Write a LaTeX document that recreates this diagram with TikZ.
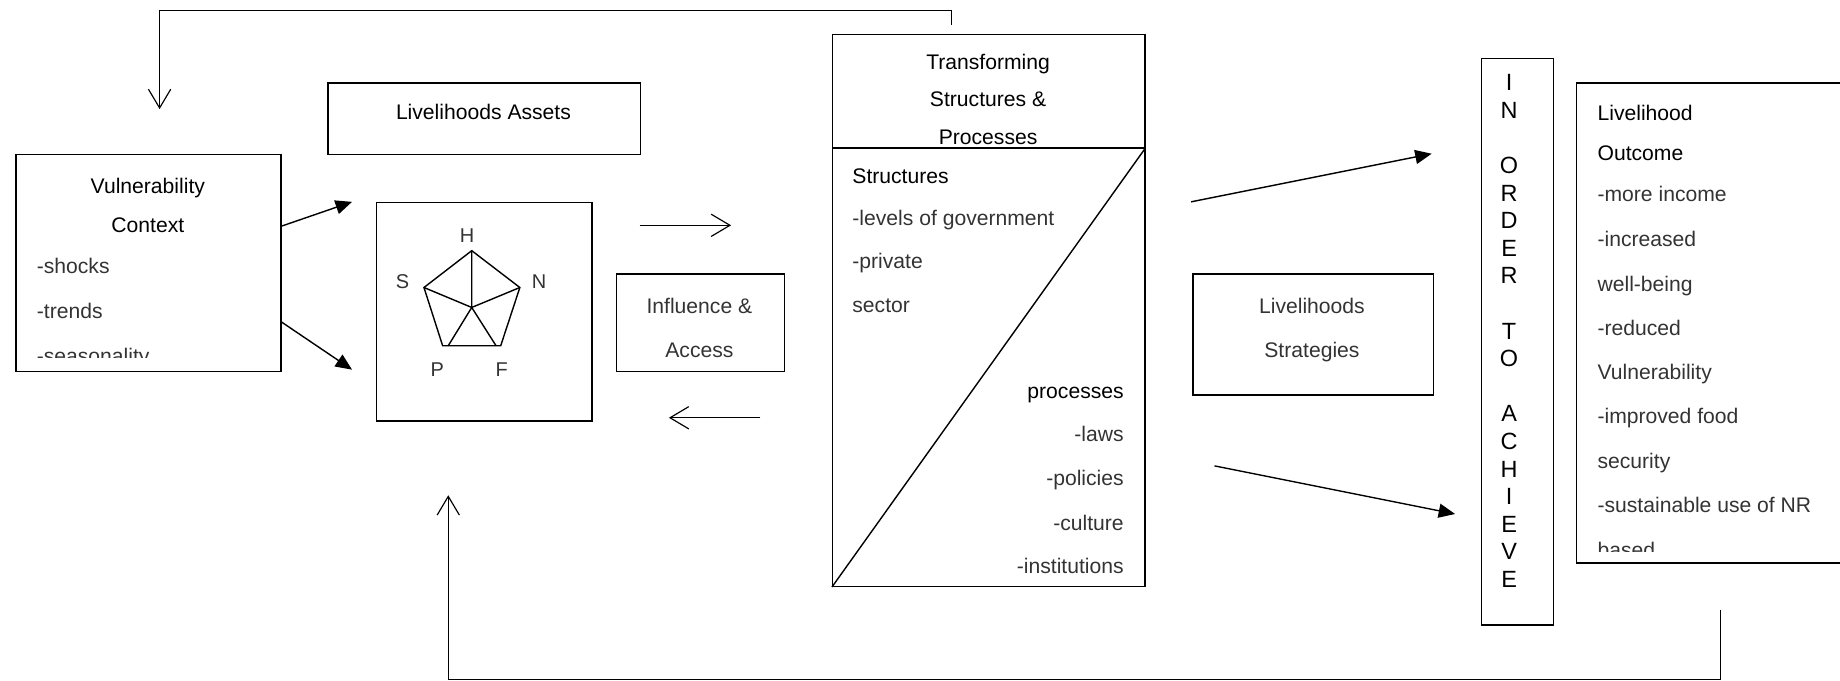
\documentclass[tikz,border=0pt]{standalone}
\usepackage{fontspec}
\setmainfont{Liberation Sans}
\usetikzlibrary{arrows.meta,positioning}

\begin{document}
\begin{tikzpicture}[x=0.5pt,y=-0.5pt,
    boxed/.style={draw, line width=0.6pt, inner sep=0pt, anchor=north west},
    txt/.style={font=\fontsize{9}{11}\selectfont, inner sep=0pt, yshift=-0.5pt},
    soft/.style={txt, text=black!80},
    letter/.style={font=\fontsize{10}{12}\selectfont, inner sep=0pt, anchor=base, yshift=-0.5pt},
    corner/.style={soft, font=\fontsize{8.5}{10}\selectfont},
    solid arrow/.style={line width=0.6pt, -{Triangle[length=7pt,width=6pt]}},
    open arrow/.style={line width=0.5pt, -{Straight Barb[length=8pt,width=9.5pt]}}]
    \useasboundingbox (0,0) rectangle (1568,580);

    %Contexte
    \node[boxed, minimum width=113pt, minimum height=92.5pt] (vul) at (13,131) {};
    \begin{scope}
      \clip (13,131) rectangle (239,305);
      \node[txt, anchor=base] (vulA) at (126,164) {Vulnerability};
      \node[txt, anchor=base] (vulB) at (126,197) {Context};
      \node[soft, anchor=base west] (vulC) at (31,232) {-shocks};
      \node[soft, anchor=base west] (vulD) at (31,270) {-trends};
      \node[soft, anchor=base west] (vulE) at (31,309) {-seasonality};
    \end{scope}

    %Capitaux
    \node[boxed, minimum width=133pt, minimum height=30.5pt] (assets) at (279,70) {};
    \node[txt, anchor=base] (assetsA) at (412,101) {Livelihoods Assets};
    \node[boxed, minimum width=92pt, minimum height=93pt] (cap) at (320,172) {};
    \coordinate (o) at (402,262);
    \coordinate (h) at (402,213.6);
    \coordinate (s) at (361.3,245);
    \coordinate (n) at (443,245);
    \coordinate (p) at (377.2,294.6);
    \coordinate (f) at (426.7,294.6);
    \coordinate (pb1) at (382,294.6);
    \coordinate (pb2) at (422.7,294.6);
    \draw[line width=0.6pt] (h) -- (n) -- (f) -- (p) -- (s) -- cycle;
    \draw[line width=0.6pt] (o) -- (h) (o) -- (n) (o) -- (s) (o) -- (pb1) (o) -- (pb2);
    \node[corner] (lh) at (398,200) {H};
    \node[corner] (ls) at (343,238.6) {S};
    \node[corner] (ln) at (459.3,238.6) {N};
    \node[corner] (lp) at (372.7,313.9) {P};
    \node[corner] (lf) at (427.5,313.9) {F};

    %Influence
    \node[boxed, minimum width=71.5pt, minimum height=41.5pt] (infl) at (525,233) {};
    \node[soft, anchor=base] (inflA) at (596,266) {Influence \&};
    \node[soft, anchor=base] (inflB) at (596,304) {Access};

    %Structures et processus
    \node[boxed, minimum width=133pt, minimum height=235pt] (transf) at (709,29) {};
    \coordinate (hdr) at (709,126);
    \draw[line width=0.6pt] (hdr) -- (hdr -| transf.east);
    \draw[line width=0.6pt] (transf.south west) -- (hdr -| transf.east);
    \node[txt, anchor=base] (trA) at (842,58) {Transforming};
    \node[txt, anchor=base] (trB) at (842,90) {Structures \&};
    \node[txt, anchor=base] (trC) at (842,122) {Processes};
    \node[txt, anchor=base west] (stA) at (726,155) {Structures};
    \node[soft, anchor=base west] (stB) at (726,191) {-levels of government};
    \node[soft, anchor=base west] (stC) at (726,228) {-private};
    \node[soft, anchor=base west] (stD) at (726,265) {sector};
    \node[txt, anchor=base east] (prA) at (958,339) {processes};
    \node[soft, anchor=base east] (prB) at (958,375) {-laws};
    \node[soft, anchor=base east] (prC) at (958,413) {-policies};
    \node[soft, anchor=base east] (prD) at (958,451) {-culture};
    \node[soft, anchor=base east] (prE) at (958,488) {-institutions};

    %Strategies
    \node[boxed, minimum width=102.5pt, minimum height=51.5pt] (strat) at (1016,233) {};
    \node[soft, anchor=base] (stratA) at (1118,266) {Livelihoods};
    \node[soft, anchor=base] (stratB) at (1118,304) {Strategies};

    %In order to achieve
    \node[boxed, minimum width=30.5pt, minimum height=241.5pt] (achieve) at (1262,49) {};
    \foreach \c [count=\i from 0] in {I,N,{},O,R,D,E,R,{},T,O,{},A,C,H,I,E,V,E}
      \node[letter] (ach\i) at (1286,76.5+23.5*\i) {\c};

    %Resultats
    \node[boxed, minimum width=112.5pt, minimum height=204.5pt] (outc) at (1343,70) {};
    \begin{scope}
      \clip (1343,70) rectangle (1568,470);
      \node[txt, anchor=base west] (outA) at (1361,102) {Livelihood};
      \node[txt, anchor=base west] (outB) at (1361,136) {Outcome};
      \node[soft, anchor=base west] (outC) at (1361,171) {-more income};
      \node[soft, anchor=base west] (outD) at (1361,209) {-increased};
      \node[soft, anchor=base west] (outE) at (1361,247) {well-being};
      \node[soft, anchor=base west] (outF) at (1361,285) {-reduced};
      \node[soft, anchor=base west] (outG) at (1361,322) {Vulnerability};
      \node[soft, anchor=base west] (outH) at (1361,360) {-improved food};
      \node[soft, anchor=base west] (outI) at (1361,398) {security};
      \node[soft, anchor=base west] (outJ) at (1361,436) {-sustainable use of NR};
      \node[soft, anchor=base west] (outK) at (1361,474) {based};
    \end{scope}

    %Fleches
    \coordinate (capA) at (300,172);
    \coordinate (capB) at (300,315);
    \draw[solid arrow] ([yshift=15.75pt]vul.east) -- (capA);
    \draw[solid arrow] ([yshift=-25.25pt]vul.east) -- (capB);
    \coordinate (goA) at (545,192);
    \coordinate (goB) at (623,192);
    \coordinate (backA) at (648,356);
    \coordinate (backB) at (570,356);
    \draw[open arrow] (goA) -- (goB);
    \draw[open arrow] (backA) -- (backB);
    \coordinate (upA) at (1015,172);
    \coordinate (upB) at (1220,131);
    \coordinate (dnA) at (1035,397);
    \coordinate (dnB) at (1240,438);
    \draw[solid arrow] (upA) -- (upB);
    \draw[solid arrow] (dnA) -- (dnB);

    %Retroaction
    \coordinate (topA) at (811,21);
    \coordinate (topB) at (136,9);
    \coordinate (topC) at (136,93);
    \draw[open arrow] (topA) |- (topB) -- (topC);
    \coordinate (botA) at (1466,520);
    \coordinate (botB) at (1466,579);
    \coordinate (botC) at (382,422);
    \draw[open arrow] (botA) -- (botB) -| (botC);
\end{tikzpicture}
\end{document}
